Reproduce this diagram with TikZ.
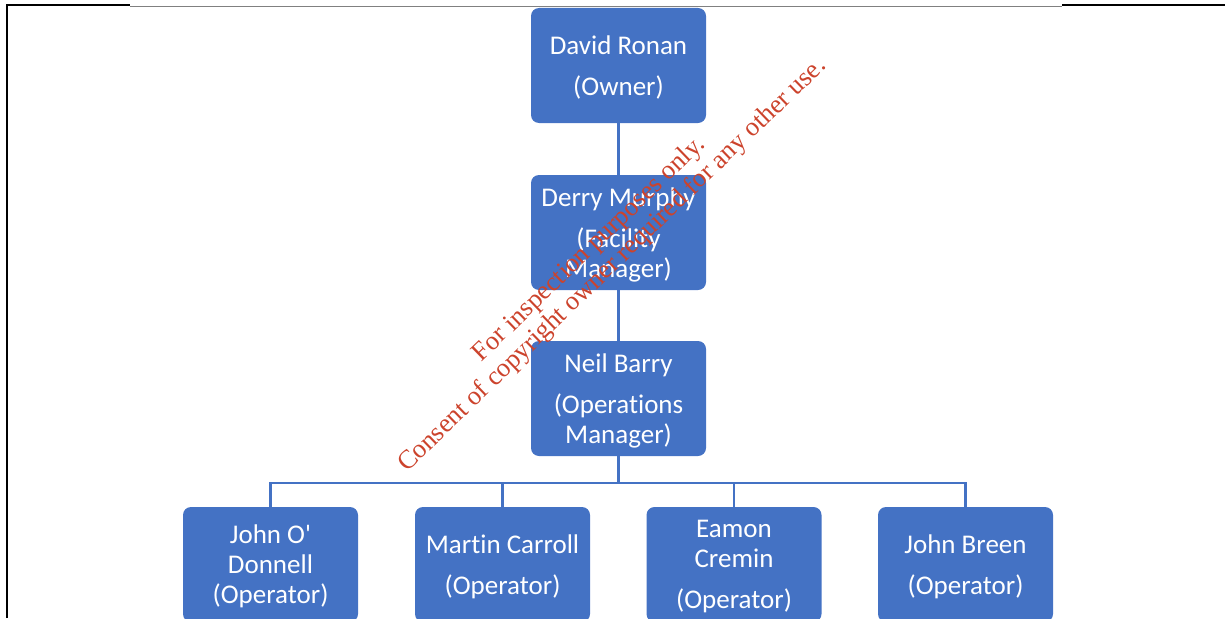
\documentclass[tikz,border=0pt]{standalone}
\usepackage{fontspec}
\newfontfamily\boxfont{Carlito}[Ligatures={NoCommon,NoContextual},Contextuals=NoAlternate]
\newfontfamily\wmfont{Liberation Serif}
\definecolor{boxblue}{HTML}{4472C4}
\definecolor{wmred}{HTML}{CC432C}
\begin{document}
\begin{tikzpicture}[x=1pt,y=-1pt,
  person/.style={rectangle, rounded corners=8pt, fill=boxblue, draw=none,
    minimum width=175pt, minimum height=115pt, inner sep=0pt},
  ptext/.style={text=white, align=center, inner sep=0pt, yshift=-2pt,
    font=\boxfont\fontsize{27}{30}\selectfont},
  link/.style={draw=boxblue, line width=2.2pt},
  frame/.style={draw=black, line width=2pt},
  thinframe/.style={draw=gray, line width=1pt},
  wm/.style={text=wmred, font=\wmfont\fontsize{26.5}{29}\selectfont, rotate=44, anchor=base, inner sep=0pt}]
\useasboundingbox (0,0) rectangle (1225,618);
% frame
\coordinate (f0) at (7,618);
\coordinate (f1) at (7,5.5);
\coordinate (f2) at (130,5.5);
\coordinate (f3) at (1062,6.5);
\coordinate (f4) at (1062,5.5);
\coordinate (f5) at (1225,5.5);
\draw[frame] (f0) -- (f1) -- (f2);
\draw[thinframe] (f2 |- f3) -- (f3);
\draw[frame] (f4) -- (f5);
% boxes
\node[person, label={[ptext]center:{David Ronan\\[11pt](Owner)}}] (owner) at (618.5,65.5) {};
\node[person, label={[ptext]center:{Derry Murphy\\[11pt](Facility\\Manager)}}] (fm) at (618.5,232.5) {};
\node[person, label={[ptext]center:{Neil Barry\\[11pt](Operat\kern0pt ions\\Manager)}}] (om) at (618.5,398.5) {};
\node[person, label={[ptext]center:{John O'\\Donnell\\(Operator)}}] (op1) at (270.5,564.5) {};
\node[person, label={[ptext]center:{Mart\kern0pt in Carroll\\[11pt](Operator)}}] (op2) at (502.5,564.5) {};
\node[person, label={[ptext]center:{Eamon\\Cremin\\[11pt](Operator)}}] (op3) at (734,564.5) {};
\node[person, label={[ptext]center:{John Breen\\[11pt](Operator)}}] (op4) at (965.5,564.5) {};
% connectors
\coordinate (bus) at (618.5,483);
\draw[link] (owner.south) -- (fm.north);
\draw[link] (fm.south) -- (om.north);
\draw[link] (om.south) -- (bus);
\draw[link] (bus) -| (op1.north);
\draw[link] (bus) -| (op2.north);
\draw[link] (bus) -| (op3.north);
\draw[link] (bus) -| (op4.north);
% watermark
\node[wm] (wm1) at (594,254) {For inspection purposes only.};
\node[wm] (wm2) at (617,270) {Consent of copyright owner required for any other use.};
\end{tikzpicture}
\end{document}
